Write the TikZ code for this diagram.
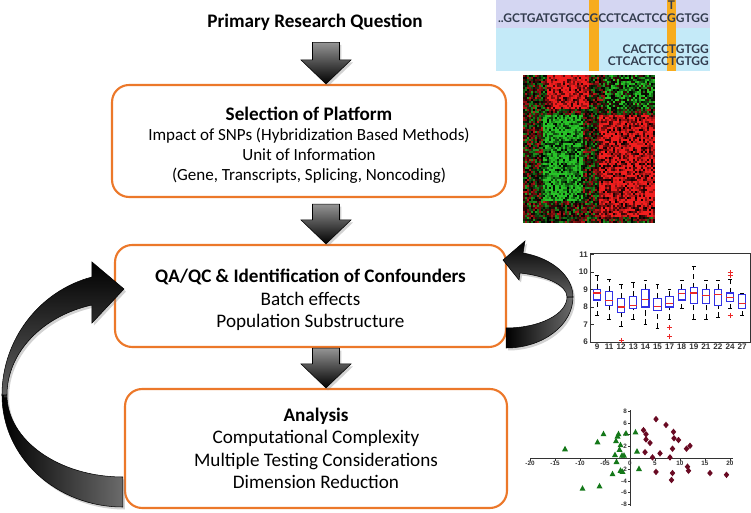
\documentclass[tikz,border=0pt]{standalone}
\usepackage{fontspec}
\setmainfont{Carlito}
\newfontfamily\seqfont{Lato}
\newfontfamily\plotfont{Liberation Sans}
\usepackage{tikz}
\usetikzlibrary{calc,shadows}
\pgfdeclarelayer{background}
\pgfsetlayers{background,main}
\definecolor{boxorange}{RGB}{236,120,42}
\definecolor{seqtop}{RGB}{212,214,242}
\definecolor{seqlow}{RGB}{196,234,248}
\definecolor{seqbar}{RGB}{247,172,30}
\definecolor{seqink}{RGB}{50,60,78}
\definecolor{hmred}{RGB}{240,30,30}
\definecolor{hmgreen}{RGB}{40,195,40}
\definecolor{bpblue}{RGB}{50,50,230}
\definecolor{bpred}{RGB}{235,40,40}
\definecolor{scgreen}{RGB}{20,120,25}
\definecolor{scred}{RGB}{105,10,35}
\newcommand{\stagefont}{\fontsize{10.9}{12.8}\selectfont}
\newcommand{\selfont}{\fontsize{9.7}{11.4}\selectfont}
\newcommand{\seqsize}{\fontsize{6.8}{8}\selectfont}
\newcommand{\toppad}[1]{\rule{0pt}{#1}}
\tikzset{
  stage/.style   ={draw=boxorange, line width=1.2pt, rounded corners=0.34cm, fill=white,
                   align=center, font=\stagefont, inner sep=0pt},
  fatarrow/.style={top color=black!42, bottom color=black, draw=black, line width=0.3pt,
                   drop shadow={opacity=0.35, shadow xshift=0.04cm, shadow yshift=-0.05cm}},
  loopfront/.style={top color=black, bottom color=black!62, draw=black, line width=0.3pt,
                   drop shadow={opacity=0.35, shadow xshift=0.04cm, shadow yshift=-0.05cm}},
  loopback/.style ={left color=black, right color=black!58, draw=black, line width=0.3pt,
                   drop shadow={opacity=0.35, shadow xshift=0.04cm, shadow yshift=-0.05cm}},
  seq/.style     ={font=\seqfont\bfseries\seqsize, text=seqink, inner sep=0pt, outer sep=0pt},
  bpframe/.style ={draw=black!80, line width=0.5pt},
  bptick/.style  ={font=\plotfont\bfseries\fontsize{4.6}{5.5}\selectfont, text=black!80, inner sep=1pt},
  bpbox/.style   ={draw=bpblue, line width=0.6pt},
  bpmed/.style   ={draw=bpred, line width=0.6pt},
  bpwhisk/.style ={draw=black, line width=0.4pt},
  bpout/.style   ={draw=bpred, line width=0.6pt},
  scaxis/.style  ={draw=black!80, line width=0.4pt},
  sctick/.style  ={font=\plotfont\bfseries\fontsize{3.6}{4}\selectfont, text=black!80, inner sep=0.5pt},
}
\newcommand{\blockdown}[2]{%
  \path[fatarrow] let \p1=#1, \p2=#2 in
    (\x1-0.27cm,\y1) -- (\x1+0.27cm,\y1) -- (\x1+0.27cm,\y2+0.48cm)
    -- (\x1+0.5cm,\y2+0.48cm) -- (\x1,\y2) -- (\x1-0.5cm,\y2+0.48cm)
    -- (\x1-0.27cm,\y2+0.48cm) -- cycle;}

\begin{document}
\begin{tikzpicture}[x=0.02cm, y=-0.02cm]
  \begin{pgfonlayer}{background}
    \fill[white] (0,0) rectangle (751,513);
  \end{pgfonlayer}
  \useasboundingbox (0,0) rectangle (751,513);

  % flow of stages
  \node[font=\bfseries\stagefont, inner sep=1pt] (title) at (315,22) {Primary Research Question};
  \node[stage, font=\selfont, minimum width=7.88cm, minimum height=2.24cm] (sel) at (309,141)
    {\toppad{0.44cm}{\stagefont\bfseries Selection of Platform}\\Impact of SNPs (Hybridization Based Methods)\\Unit of Information\\(Gene, Transcripts, Splicing, Noncoding)};
  \node[stage, minimum width=7.82cm, minimum height=2.04cm] (qa) at (310.5,296)
    {\toppad{0.43cm}\textbf{QA/QC \& Identification of Confounders}\\Batch effects\\Population Substructure};
  \node[stage, minimum width=7.64cm, minimum height=2.38cm] (ana) at (316,448.5)
    {\textbf{Analysis}\\Computational Complexity\\Multiple Testing Considerations\\Dimension Reduction};

  \coordinate (axis) at (326,0);
  \blockdown{($(title.south -| axis)+(0,10)$)}{(sel.north -| axis)}
  \blockdown{($(sel.south -| axis)+(0,6)$)}{(qa.north -| axis)}
  \blockdown{(qa.south -| axis)}{(ana.north -| axis)}

  % loop back from analysis
  \begin{scope}[shift={(ana.west)}]
    \path[loopback] (-1,58.5) .. controls (-68,58.5) and (-122,8.5) .. (-122,-53.5)
      -- (-117,-53.5) .. controls (-117,-8.5) and (-65,28.5) .. (-1,28.5) -- cycle;
    \path[loopfront] (-122,-53.5) .. controls (-122,-108.5) and (-85,-157.5) .. (-32,-171.5)
      -- (-32,-186.5) -- (0,-159.5) -- (-32,-125.5) -- (-32,-143.5)
      .. controls (-82,-132.5) and (-117,-95.5) .. (-117,-53.5) -- cycle;
  \end{scope}
  % loop on qa/qc
  \begin{scope}[shift={(qa.east)}]
    \path[loopback] (-1,52) .. controls (36,52) and (66,29) .. (66,1)
      -- (60,1) .. controls (60,18) and (33,32) .. (-1,32) -- cycle;
    \path[loopfront] (66,1) .. controls (66,-20) and (45,-38) .. (16,-43)
      -- (18,-55) -- (-4,-36) -- (12,-16) -- (13,-23)
      .. controls (40,-20) and (60,-10.5) .. (60,1) -- cycle;
  \end{scope}

  % sequence panel
  \node[seq, anchor=base west] (s1) at (498,23) {..GCTGATGTGCC};
  \node[seq, anchor=base west] (g1) at (s1.base east) {G};
  \node[seq, anchor=base west] (s2) at (g1.base east) {CCTCACTCC};
  \node[seq, anchor=base west] (g2) at (s2.base east) {G};
  \node[seq, anchor=base west] (s3) at (g2.base east) {GTGG};
  \node[seq, anchor=base] (t1) at ($(g2.base)+(0,-13)$) {T};
  \node[seq, anchor=base east] (l2) at ($(s3.base east)+(0,31)$) {CACTCCTGTGG};
  \node[seq, anchor=base east] (l3) at ($(s3.base east)+(0,43)$) {CTCACTCCTGTGG};
  \coordinate (seqtl) at (496,0);
  \coordinate (seqmid) at (710,28);
  \coordinate (seqbr) at (710,71);
  \begin{pgfonlayer}{background}
    \fill[seqtop] (seqtl) rectangle (seqmid);
    \fill[seqlow] (seqtl |- seqmid) rectangle (seqbr);
    \fill[seqbar] ($(g1.west |- seqtl)+(-0.5,0)$) rectangle ($(g1.east |- seqbr)+(0.5,0)$);
    \fill[seqbar] ($(g2.west |- seqtl)+(-0.5,0)$) rectangle ($(g2.east |- seqbr)+(0.5,0)$);
  \end{pgfonlayer}

  % heat map
  \pgfmathsetseed{11}
  \foreach \i in {0,...,65}{
    \foreach \j in {0,...,73}{
      \pgfmathsetmacro{\hu}{\i/65}
      \pgfmathsetmacro{\hv}{\j/73}
      \pgfmathsetmacro{\hval}{0.9*(\hu>0.17)*(\hu<0.5)*(\hv<0.22)
        - 0.45*(\hu>0.62)*(\hv<0.22)
        - 0.8*(\hu>0.15)*(\hu<0.45)*(\hv>0.27)*(\hv<0.85)
        + 0.8*(\hu>0.58)*(\hv>0.27)*(\hv<0.97) + 0.8*rand}
      \pgfmathtruncatemacro{\hpct}{min(100,abs(\hval)*100)}
      \ifdim\hval pt>0pt \def\hcol{hmred}\else\def\hcol{hmgreen}\fi
      \fill[\hcol!\hpct!black] (523+2*\i,75+2*\j) rectangle ++(2.05,2.05);
    }
  }

  % box plot
  \begin{scope}[shift={(597,447)}, x=0.242cm, y=0.35cm]
    \draw[bpframe] (-0.58,6) rectangle (12.7,11.09);
    \foreach \v in {6,...,11}{
      \draw[bpframe] (-0.58,\v) -- ++(0.08cm,0);
      \node[bptick, anchor=east] (by\v) at (-0.58,\v) {\v};
    }
    \foreach \lab [count=\k from 0] in {9,11,12,13,14,15,17,18,19,21,22,24,27}
      \node[bptick, anchor=north] (bx\k) at (\k,6) {\lab};
    \foreach \k/\wl/\qa/\md/\qb/\wh in {0/7.5/8.4/8.8/9.0/9.8, 1/7.3/8.1/8.35/8.9/9.6,
        2/6.9/7.7/8.0/8.5/9.3, 3/7.3/7.9/8.1/8.6/9.4, 4/7.0/8.0/8.45/9.0/9.5,
        5/6.8/7.8/8.05/8.5/9.3, 6/7.3/8.0/8.2/8.6/9.0, 7/7.9/8.4/8.75/9.0/9.5,
        8/7.3/8.2/8.8/9.1/10.3, 9/7.3/8.2/8.65/9.0/9.5, 10/7.4/8.1/8.7/9.0/9.5,
        11/7.9/8.3/8.55/8.8/9.6, 12/7.5/7.9/8.2/8.7/8.8}{
      \draw[bpwhisk, densely dashed] (\k,\wl) -- (\k,\qa) (\k,\qb) -- (\k,\wh);
      \draw[bpwhisk] (\k-0.15,\wl) -- (\k+0.15,\wl) (\k-0.15,\wh) -- (\k+0.15,\wh);
      \draw[bpbox] (\k-0.3,\qa) rectangle (\k+0.3,\qb);
      \draw[bpmed] (\k-0.3,\md) -- (\k+0.3,\md);
    }
    \foreach \k/\v in {2/6.1, 6/6.85, 6/6.3, 11/9.8, 11/9.95, 11/7.5}
      \draw[bpout] (\k-0.2,\v) -- (\k+0.2,\v) (\k,\v-0.14) -- (\k,\v+0.14);
  \end{scope}

  % scatter plot
  \begin{scope}[shift={(630,458)}, x=0.1cm, y=0.116cm]
    \draw[scaxis] (-20,0) -- (20.6,0);
    \draw[scaxis] (0,-8.3) -- (0,8.3);
    \foreach \t/\lab [count=\n] in {-20/-20,-15/-15,-10/-10,-5/-05,0/0,5/5,10/10,15/15,20/20}{
      \draw[scaxis] (\t,0) -- ++(0,-0.05cm);
      \node[sctick, anchor=north] (sx\n) at (\t,-0.4) {\lab};
    }
    \foreach \t [count=\n] in {-8,-6,-4,-2,2,4,6,8}{
      \draw[scaxis] (0,\t) -- ++(-0.05cm,0);
      \node[sctick, anchor=east] (sy\n) at (-0.4,\t) {\t};
    }
    \foreach \p in {(-13,1.5),(-9.5,-5.3),(-6.1,-4.9),(-6.5,2.7),(-5.3,4.1),(-3.5,-2.8),
        (-2.8,2.9),(-2.5,3.7),(-2.3,4.1),(-2.1,1.4),(-1.9,2.2),(-3.0,0.5),(-1.6,0.4),
        (-2.7,-0.7),(-1.9,-2.2),(-1.5,-2.4),(-1.2,0.4),(-0.8,4.2),(1.1,4.4),(1.4,1.1),(1.8,-1.9)}
      \fill[scgreen] \p +(0,0.07cm) -- +(0.06cm,-0.04cm) -- +(-0.06cm,-0.04cm) -- cycle;
    \foreach \p in {(5.2,6.7),(2.7,4.8),(3.2,4.1),(3.2,3.2),(4.0,2.6),(3.0,1.0),(4.5,0.1),
        (6.0,0.8),(5.2,-2.4),(7.2,5.7),(8.7,4.5),(8.8,3.4),(9.7,3.1),(8.5,1.6),(8.0,0.1),
        (8.5,-2.6),(8.3,-3.8),(11.3,1.6),(12.0,2.1),(11.5,-1.5),(11.7,-2.2),(16.0,-2.6),(19.3,-2.9)}
      \fill[scred] \p +(0,0.065cm) -- +(0.055cm,0) -- +(0,-0.065cm) -- +(-0.055cm,0) -- cycle;
  \end{scope}
\end{tikzpicture}
\end{document}
